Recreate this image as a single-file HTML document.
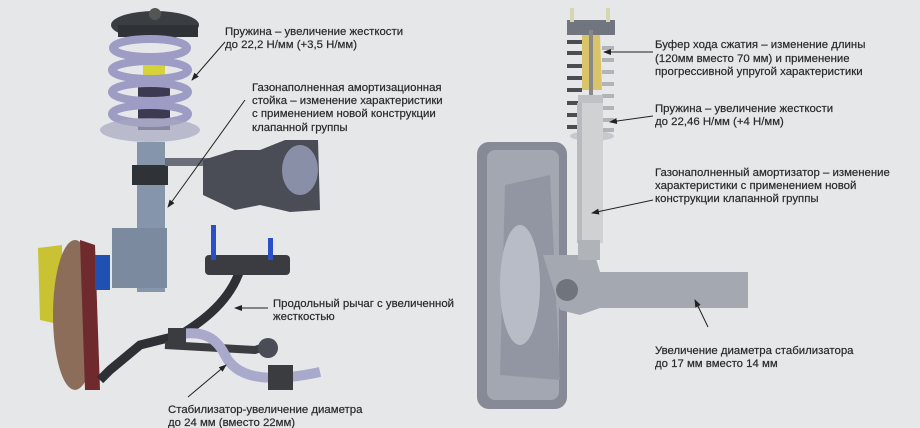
<!DOCTYPE html>
<html><head><meta charset="utf-8"><style>
html,body{margin:0;padding:0;background:#e5e7e9;}
svg{display:block}
text{font-family:"Liberation Sans",sans-serif;font-size:11.4px;fill:#2a2a2a;stroke:#2a2a2a;stroke-width:0.2px;}
</style></head><body>
<svg width="920" height="428" viewBox="0 0 920 428" xmlns="http://www.w3.org/2000/svg">
<defs><marker id="a" markerWidth="8" markerHeight="8" refX="7" refY="4" orient="auto" markerUnits="userSpaceOnUse"><path d="M0,1 L8,4 L0,7 z" fill="#222"/></marker></defs>
<rect width="920" height="428" fill="#e5e7e9"/>
<!-- LEFT ASSEMBLY -->
<ellipse cx="155" cy="25" rx="44" ry="14" fill="#3a3d42"/>
<rect x="118" y="25" width="80" height="12" fill="#2f3236"/>
<circle cx="155" cy="14" r="6" fill="#555"/>
<rect x="143" y="55" width="22" height="30" fill="#d6d23a"/>
<rect x="138" y="85" width="32" height="45" fill="#3c3a50"/>
<g fill="none" stroke="#9c9cc4" stroke-width="8">
<ellipse cx="150" cy="48" rx="37" ry="9"/>
<ellipse cx="150" cy="70" rx="38" ry="9"/>
<ellipse cx="150" cy="92" rx="38" ry="9"/>
<ellipse cx="150" cy="114" rx="38" ry="9"/>
</g>
<ellipse cx="150" cy="130" rx="50" ry="12" fill="#a6a8c0" opacity=".7"/>
<rect x="137" y="142" width="28" height="150" fill="#8596ab"/>
<rect x="132" y="165" width="36" height="20" fill="#2f3236"/>
<rect x="112" y="228" width="55" height="60" fill="#7c8aa0"/>
<rect x="165" y="158" width="50" height="8" fill="#6a6e78"/>
<path d="M203 160 L235 150 L260 150 L285 140 L318 140 L320 210 L290 212 L260 205 L235 210 L203 195 Z" fill="#4a4d55"/>
<ellipse cx="300" cy="170" rx="18" ry="25" fill="#8a8fa8"/>
<path d="M38 248 L62 245 L62 325 L40 320 Z" fill="#c9c232"/>
<ellipse cx="75" cy="315" rx="22" ry="75" fill="#8b6d5a"/>
<path d="M80 240 L95 245 L100 390 L85 390 Z" fill="#6e2a2c"/>
<rect x="95" y="255" width="15" height="35" fill="#2050b0"/>
<path d="M240 270 C230 300 205 320 180 335 L140 345 L110 370 L100 380" fill="none" stroke="#2e3035" stroke-width="9"/>
<path d="M165 345 L255 350 L270 345" fill="none" stroke="#3a3c40" stroke-width="8"/>
<rect x="205" y="255" width="85" height="20" rx="4" fill="#3a3c42"/>
<rect x="211" y="225" width="5" height="35" fill="#2b4fc8"/>
<rect x="268" y="238" width="5" height="22" fill="#2b4fc8"/>
<path d="M175 335 C200 330 215 335 225 355 C235 375 260 385 320 372" fill="none" stroke="#a9a9cc" stroke-width="10"/>
<rect x="168" y="328" width="18" height="18" fill="#3a3c40"/>
<rect x="268" y="365" width="25" height="25" fill="#3a3c40"/>
<circle cx="268" cy="348" r="10" fill="#4a4d55"/>
<!-- RIGHT ASSEMBLY -->
<rect x="477" y="142" width="90" height="267" rx="12" fill="#868a96"/>
<rect x="487" y="150" width="72" height="250" rx="8" fill="#a3a7b2"/>
<path d="M505 185 L550 175 L560 380 L500 375 Z" fill="#9296a2"/>
<ellipse cx="520" cy="285" rx="20" ry="60" fill="#b8bcc6"/>
<rect x="567" y="20" width="48" height="15" fill="#707580"/>
<rect x="570" y="8" width="4" height="14" fill="#d8d6b0"/>
<rect x="606" y="8" width="4" height="14" fill="#d8d6b0"/>
<g stroke="#4a4d52" stroke-width="4" fill="none">
<path d="M567 42 h15 M567 53 h15 M567 66 h15 M567 78 h15 M567 90 h15 M567 103 h15 M567 115 h15 M567 127 h15"/>
</g>
<g stroke="#b0b3b8" stroke-width="4" fill="none">
<path d="M602 48 h12 M602 60 h12 M602 72 h12 M602 84 h12 M602 96 h12 M602 108 h12 M602 120 h12 M602 130 h12"/>
</g>
<path d="M582 35 L600 35 L602 90 L582 90 Z" fill="#d9c46a"/>
<rect x="589" y="30" width="4" height="65" fill="#888"/>
<rect x="578" y="95" width="25" height="10" fill="#bfc1c4"/>
<ellipse cx="592" cy="136" rx="22" ry="5" fill="#c6c8cb"/>
<rect x="577" y="103" width="26" height="140" fill="#cfd1d3"/>
<rect x="577" y="103" width="5" height="140" fill="#b8babd"/>
<path d="M543 255 L595 255 L600 272 L748 272 L748 308 L600 308 L580 315 L560 310 Z" fill="#a4a8b0"/>
<circle cx="567" cy="290" r="11" fill="#70747c"/>
<rect x="578" y="240" width="22" height="20" fill="#b0b3b8"/>
<!-- LABELS -->
<text x="225" y="35">Пружина – увеличение жесткости</text>
<text x="225" y="48">до 22,2 Н/мм (+3,5 Н/мм)</text>
<line x1="225" y1="42" x2="192" y2="80" stroke="#222" stroke-width="1" marker-end="url(#a)"/>
<text x="252" y="91">Газонаполненная амортизационная</text>
<text x="252" y="104">стойка – изменение характеристики</text>
<text x="252" y="117">с применением новой конструкции</text>
<text x="252" y="131">клапанной группы</text>
<line x1="245" y1="100" x2="168" y2="207" stroke="#222" stroke-width="1" marker-end="url(#a)"/>
<text x="273" y="307">Продольный рычаг с увеличенной</text>
<text x="273" y="320">жесткостью</text>
<line x1="268" y1="308" x2="235" y2="308" stroke="#222" stroke-width="1" marker-end="url(#a)"/>
<text x="168" y="413">Стабилизатор-увеличение диаметра</text>
<text x="168" y="426">до 24 мм (вместо 22мм)</text>
<line x1="188" y1="397" x2="226" y2="365" stroke="#222" stroke-width="1" marker-end="url(#a)"/>
<text x="655" y="48">Буфер хода сжатия – изменение длины</text>
<text x="655" y="62">(120мм вместо 70 мм) и применение</text>
<text x="655" y="75">прогрессивной упругой характеристики</text>
<line x1="653" y1="52" x2="604" y2="52" stroke="#222" stroke-width="1" marker-end="url(#a)"/>
<text x="655" y="112">Пружина – увеличение жесткости</text>
<text x="655" y="125">до 22,46 Н/мм (+4 Н/мм)</text>
<line x1="653" y1="116" x2="610" y2="122" stroke="#222" stroke-width="1" marker-end="url(#a)"/>
<text x="655" y="176">Газонаполненный амортизатор – изменение</text>
<text x="655" y="189">характеристики с применением новой</text>
<text x="655" y="202">конструкции клапанной группы</text>
<line x1="653" y1="200" x2="592" y2="213" stroke="#222" stroke-width="1" marker-end="url(#a)"/>
<text x="655" y="354">Увеличение диаметра стабилизатора</text>
<text x="655" y="367">до 17 мм  вместо 14 мм</text>
<line x1="708" y1="327" x2="695" y2="300" stroke="#222" stroke-width="1" marker-end="url(#a)"/>
</svg>
</body></html>
